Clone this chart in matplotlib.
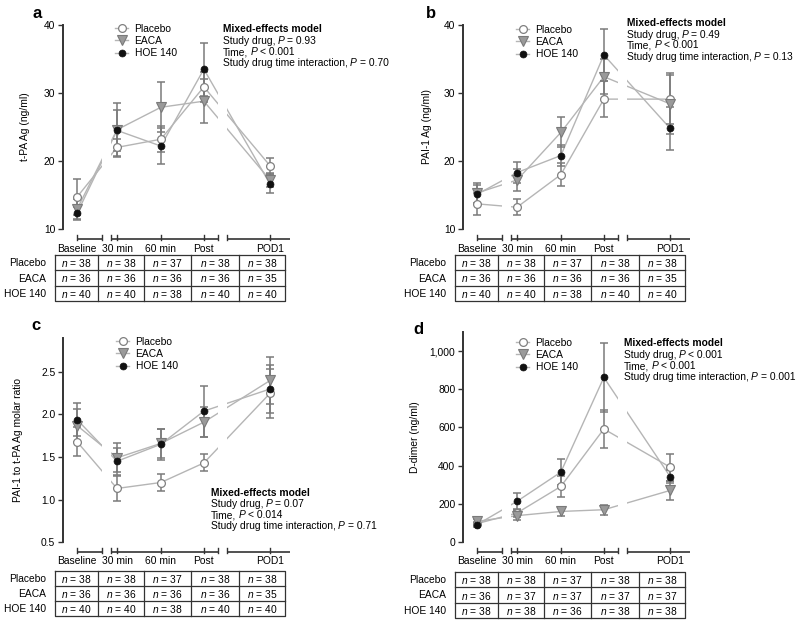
import matplotlib
matplotlib.use("Agg")
import matplotlib.pyplot as plt
from matplotlib.lines import Line2D
from matplotlib.transforms import ScaledTranslation
from matplotlib.ticker import FuncFormatter, FixedLocator

plt.rcParams['font.family'] = ['Liberation Sans', 'DejaVu Sans']
plt.rcParams['mathtext.fontset'] = 'custom'
plt.rcParams['mathtext.rm'] = 'Liberation Sans'
plt.rcParams['mathtext.it'] = 'Liberation Sans:italic'
plt.rcParams['mathtext.bf'] = 'Liberation Sans:bold'

# ---------------- data ----------------
timepoints = ["Baseline", "30 min", "60 min", "Post", "POD1"]
groups = ["Placebo", "EACA", "HOE 140"]

# a: t-PA Ag (ng/ml)
tpa_placebo = [14.7, 22.0, 23.2, 30.9, 19.3]
tpa_placebo_se = [2.6, 1.2, 1.9, 2.2, 1.2]
tpa_eaca = [12.9, 24.6, 27.9, 28.8, 17.2]
tpa_eaca_se = [1.5, 4.0, 3.7, 3.2, 1.0]
tpa_hoe = [12.3, 24.5, 22.2, 33.5, 16.6]
tpa_hoe_se = [1.0, 3.0, 2.6, 3.9, 1.3]

# b: PAI-1 Ag (ng/ml)
pai_placebo = [13.7, 13.2, 18.0, 29.1, 29.1]
pai_placebo_se = [1.6, 1.2, 1.7, 2.7, 3.6]
pai_eaca = [15.3, 17.2, 24.2, 32.4, 28.4]
pai_eaca_se = [1.5, 1.6, 2.2, 2.6, 4.5]
pai_hoe = [15.1, 18.3, 20.8, 35.6, 24.8]
pai_hoe_se = [1.4, 1.6, 1.5, 3.8, 3.2]

# c: PAI-1 to t-PA Ag molar ratio
ratio_placebo = [1.68, 1.13, 1.20, 1.43, 2.25]
ratio_placebo_se = [0.17, 0.15, 0.10, 0.10, 0.29]
ratio_eaca = [1.87, 1.49, 1.66, 1.91, 2.40]
ratio_eaca_se = [0.19, 0.17, 0.17, 0.18, 0.28]
ratio_hoe = [1.94, 1.45, 1.65, 2.04, 2.30]
ratio_hoe_se = [0.19, 0.16, 0.18, 0.30, 0.28]

# d: D-dimer (ng/ml)
dd_placebo = [96, 152, 291, 592, 392]
dd_placebo_se = [10, 20, 55, 100, 70]
dd_eaca = [108, 138, 160, 169, 270]
dd_eaca_se = [10, 22, 25, 25, 52]
dd_hoe = [91, 213, 366, 862, 343]
dd_hoe_se = [10, 43, 69, 180, 35]

# sample sizes
n_abc_placebo = [38, 38, 37, 38, 38]
n_abc_eaca = [36, 36, 36, 36, 35]
n_abc_hoe = [40, 40, 38, 40, 40]
n_d_placebo = [38, 38, 37, 38, 38]
n_d_eaca = [36, 37, 37, 37, 37]
n_d_hoe = [38, 38, 36, 38, 38]

# statistics lines: (prefix, italic symbol, suffix)
stats_a = [("Study drug,", "P", "= 0.93"), ("Time,", "P", "< 0.001"),
           ("Study drug time interaction,", "P", "= 0.70")]
stats_b = [("Study drug,", "P", "= 0.49"), ("Time,", "P", "< 0.001"),
           ("Study drug time interaction,", "P", "= 0.13")]
stats_c = [("Study drug,", "P", "= 0.07"), ("Time,", "P", "< 0.014"),
           ("Study drug time interaction,", "P", "= 0.71")]
stats_d = [("Study drug,", "P", "< 0.001"), ("Time,", "P", "< 0.001"),
           ("Study drug time interaction,", "P", "= 0.001")]

# ---------------- layout / style ----------------
W, H, DPI = 800, 625, 100
FS = 7.4
XPOS = [0, 0.93, 1.95, 2.95, 4.49]
XLIM = (-0.326, 5.0)
AXIS_SEGS = [(0.0, 0.58), (0.79, 3.28), (3.49, 4.95)]
SEG_TICKS = [0.58, 0.79, 3.28, 3.49]
BREAKS = [(0.58, 0.79), (3.28, 3.49)]

LINE_C = '#b5b5b5'
ERR_C = '#7a7a7a'
AX_C = '#333333'
STYLES = {
    "Placebo": dict(marker='o', ms=5.6, mfc='white', mec='#808080', mew=0.9),
    "EACA": dict(marker='v', ms=7.2, mfc='#9a9a9a', mec='#7a7a7a', mew=0.8),
    "HOE 140": dict(marker='o', ms=5.0, mfc='#111111', mec='#111111', mew=0.5),
}

fig = plt.figure(figsize=(W / DPI, H / DPI), dpi=DPI)
renderer = fig.canvas.get_renderer()
ov = fig.add_axes([0, 0, 1, 1])
ov.set_xlim(0, W)
ov.set_ylim(H, 0)
ov.axis('off')
ov.set_zorder(10)


def text_width(s, **kw):
    t = ov.text(0, 0, s, fontsize=FS, **kw)
    w = t.get_window_extent(renderer).width
    t.remove()
    return w


SPACE = text_width("x x") - text_width("xx")


def rich_line(x, y, parts):
    gaps = [SPACE - 0.8, SPACE, 0]
    for (s, style), g in zip(parts, gaps):
        t = ov.text(x, y, s, fontsize=FS, fontstyle=style, ha='left', va='baseline')
        x += t.get_window_extent(renderer).width + g


def panel(rect_px, series, ylim, yticks, ylabel, ylab_x, letter, letter_xy,
          stats, stats_xy, leg_xy, nrows, table_y, yfmt=None):
    left, top, right, bottom = rect_px
    ax = fig.add_axes([left / W, 1 - bottom / H, (right - left) / W, (bottom - top) / H])
    ax.patch.set_alpha(0)
    ax.set_xlim(*XLIM)
    ax.set_ylim(*ylim)
    for s in ['top', 'right', 'bottom']:
        ax.spines[s].set_visible(False)
    ax.spines['left'].set_color(AX_C)
    ax.spines['left'].set_linewidth(1.4)
    ax.set_xticks([])
    ax.yaxis.set_major_locator(FixedLocator(yticks))
    if yfmt:
        ax.yaxis.set_major_formatter(FuncFormatter(yfmt))
    ax.tick_params(axis='y', length=3.5, width=1, color=AX_C, labelsize=FS, pad=2)
    ax.set_ylabel(ylabel, fontsize=FS)
    ax.yaxis.set_label_coords((ylab_x - left) / (right - left), 0.5)

    for name, (vals, se) in zip(groups, series):
        ax.plot(XPOS, vals, color=LINE_C, lw=1.0, zorder=1)
    for b0, b1 in BREAKS:
        ax.axvspan(b0, b1, color='white', lw=0, zorder=2)
    for name, (vals, se) in zip(groups, series):
        ax.errorbar(XPOS, vals, yerr=se, fmt='none', ecolor=ERR_C, elinewidth=1.1,
                    capsize=3.2, capthick=1.1, zorder=3)
    for name, (vals, se) in zip(groups, series):
        ax.plot(XPOS, vals, ls='none', zorder=4, **STYLES[name])

    # broken x axis below the plot
    ah = bottom - top
    tr = ax.get_xaxis_transform() + ScaledTranslation(0, -10 / DPI, fig.dpi_scale_trans)
    for a0, a1 in AXIS_SEGS:
        ax.plot([a0, a1], [0, 0], color=AX_C, lw=1.2, transform=tr, clip_on=False,
                solid_capstyle='butt')
    for x in XPOS + SEG_TICKS:
        ax.plot([x, x], [-1.0 / ah, 4.0 / ah], color=AX_C, lw=1.0, transform=tr, clip_on=False)
    trl = ax.get_xaxis_transform() + ScaledTranslation(0, -19.5 / DPI, fig.dpi_scale_trans)
    for x, lab in zip(XPOS, timepoints):
        ax.text(x, 0, lab, transform=trl, ha='center', va='center', fontsize=FS, clip_on=False)

    # legend
    handles = [Line2D([], [], color=LINE_C, lw=1.0, **STYLES[g]) for g in groups]
    ax.legend(handles, groups, loc='upper left', frameon=False, fontsize=FS,
              bbox_to_anchor=(leg_xy[0] / W, 1 - leg_xy[1] / H), bbox_transform=fig.transFigure,
              borderpad=0, borderaxespad=0, handlelength=1.3, handletextpad=0.6,
              labelspacing=0.2)

    # panel letter
    ov.text(letter_xy[0], letter_xy[1], letter, fontsize=12, fontweight='bold',
            ha='center', va='center')

    # stats text (baseline-aligned lines, italic P)
    sx, sy, sp = stats_xy
    ov.text(sx, sy + 3.5, "Mixed-effects model", fontsize=FS, fontweight='bold',
            ha='left', va='baseline')
    for i, (pre, sym, post) in enumerate(stats):
        rich_line(sx, sy + 3.5 + sp * (i + 1), [(pre, 'normal'), (sym, 'italic'), (post, 'normal')])

    # sample size table
    cols = [left - 8, left + 35, left + 81, left + 128, left + 176, left + 222]
    ty0, ty1 = table_y
    rh = (ty1 - ty0) / 3
    ov.plot([cols[0], cols[-1], cols[-1], cols[0], cols[0]], [ty0, ty0, ty1, ty1, ty0],
            color=AX_C, lw=0.9)
    for c in cols[1:-1]:
        ov.plot([c, c], [ty0, ty1], color=AX_C, lw=0.9)
    for r in (1, 2):
        ov.plot([cols[0], cols[-1]], [ty0 + r * rh, ty0 + r * rh], color=AX_C, lw=0.9)
    for r, (g, ns) in enumerate(zip(groups, nrows)):
        yc = ty0 + (r + 0.5) * rh + 0.5
        ov.text(left - 17, yc, g, fontsize=FS, ha='right', va='center')
        for c in range(5):
            ov.text((cols[c] + cols[c + 1]) / 2, yc, f"$n$ = {ns[c]}", fontsize=FS,
                    ha='center', va='center')
    return ax


panel((63, 25, 292, 229),
      [(tpa_placebo, tpa_placebo_se), (tpa_eaca, tpa_eaca_se), (tpa_hoe, tpa_hoe_se)],
      (10, 40), [10, 20, 30, 40], "t-PA Ag (ng/ml)", 30, "a", (37, 13),
      stats_a, (223, 29, 11.3), (115, 24), [n_abc_placebo, n_abc_eaca, n_abc_hoe], (255, 301))

panel((463, 25, 692, 229),
      [(pai_placebo, pai_placebo_se), (pai_eaca, pai_eaca_se), (pai_hoe, pai_hoe_se)],
      (10, 40), [10, 20, 30, 40], "PAI-1 Ag (ng/ml)", 432, "b", (431, 13),
      stats_b, (627, 23, 11.0), (516, 25), [n_abc_placebo, n_abc_eaca, n_abc_hoe], (255, 301))

panel((63, 338, 292, 542),
      [(ratio_placebo, ratio_placebo_se), (ratio_eaca, ratio_eaca_se), (ratio_hoe, ratio_hoe_se)],
      (0.5, 2.9), [0.5, 1.0, 1.5, 2.0, 2.5], "PAI-1 to t-PA Ag molar ratio", 23, "c", (36, 325),
      stats_c, (211, 493, 10.8), (116, 337), [n_abc_placebo, n_abc_eaca, n_abc_hoe], (571, 616),
      yfmt=lambda v, p: f"{v:.1f}")

panel((463, 332, 692, 542),
      [(dd_placebo, dd_placebo_se), (dd_eaca, dd_eaca_se), (dd_hoe, dd_hoe_se)],
      (0, 1100), [0, 200, 400, 600, 800, 1000], "D-dimer (ng/ml)", 420, "d", (418, 330),
      stats_d, (624, 343, 11.3), (516, 338), [n_d_placebo, n_d_eaca, n_d_hoe], (572, 618),
      yfmt=lambda v, p: f"{v:,.0f}")

fig.savefig("out.png", dpi=DPI)
